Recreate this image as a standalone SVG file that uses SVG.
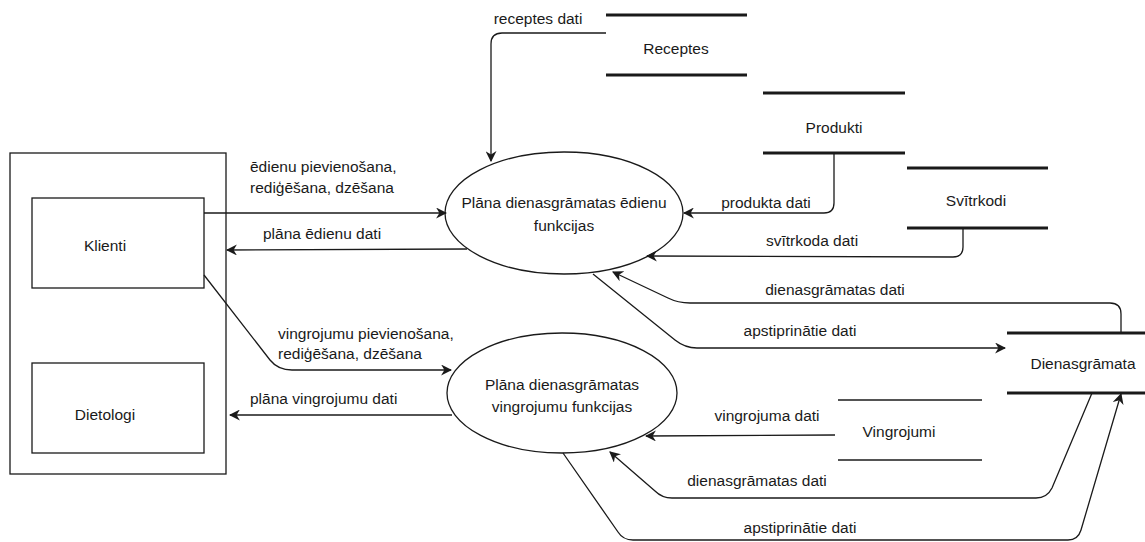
<svg xmlns="http://www.w3.org/2000/svg" width="1145" height="542" viewBox="0 0 1145 542">
<style>
text{font-family:"Liberation Sans",Arial,sans-serif;font-size:15.5px;fill:#1a1a1a}
.c{text-anchor:middle;dominant-baseline:central}
.l{text-anchor:start;dominant-baseline:central}
.box{fill:#fff;stroke:#1a1a1a;stroke-width:1.3}
.store{stroke:#1a1a1a;stroke-width:3}
.storethin{stroke:#1a1a1a;stroke-width:1.3}
.edge{fill:none;stroke:#1a1a1a;stroke-width:1.3;marker-end:url(#arr)}
</style>
<defs>
<marker id="arr" viewBox="0 0 10 10" refX="9" refY="5" markerWidth="11" markerHeight="11" markerUnits="userSpaceOnUse" orient="auto">
<path d="M0,0 L10,5 L0,10 L3,5 z" fill="#1a1a1a"/>
</marker>
</defs>
<rect width="1145" height="542" fill="#fff"/>
<g id="outer"><rect class="box" x="10" y="153" width="216" height="321"/></g>
<g id="klienti"><rect class="box" x="32" y="198" width="172" height="90"/><text class="c" x="105" y="245">Klienti</text></g>
<g id="dietologi"><rect class="box" x="32" y="363" width="172" height="90"/><text class="c" x="105" y="414">Dietologi</text></g>
<g id="proc1"><ellipse class="box" cx="564" cy="213" rx="119" ry="61"/><text class="c" x="564" y="202">Plāna dienasgrāmatas ēdienu</text><text class="c" x="564" y="225">funkcijas</text></g>
<g id="proc2"><ellipse class="box" cx="562" cy="393" rx="115" ry="60"/><text class="c" x="562" y="384">Plāna dienasgrāmatas</text><text class="c" x="562" y="406">vingrojumu funkcijas</text></g>
<g id="receptes"><line class="store" x1="606" y1="15" x2="747" y2="15"/><line class="store" x1="606" y1="75" x2="747" y2="75"/><text class="c" x="676" y="48">Receptes</text></g>
<g id="produkti"><line class="store" x1="763" y1="93" x2="905" y2="93"/><line class="store" x1="763" y1="153" x2="905" y2="153"/><text class="c" x="834" y="127">Produkti</text></g>
<g id="svitrkodi"><line class="store" x1="907" y1="168" x2="1048" y2="168"/><line class="store" x1="907" y1="228" x2="1048" y2="228"/><text class="c" x="976" y="200">Svītrkodi</text></g>
<g id="dienasgramata"><line class="store" x1="1007" y1="333" x2="1145" y2="333"/><line class="store" x1="1007" y1="393" x2="1145" y2="393"/><text class="c" x="1083" y="363">Dienasgrāmata</text></g>
<g id="vingrojumi"><line class="storethin" x1="838" y1="400" x2="982" y2="400"/><line class="storethin" x1="838" y1="460" x2="982" y2="460"/><text class="c" x="899" y="431">Vingrojumi</text></g>
<g id="connectors">
<path class="edge" d="M606,33 L502,33 Q491,33 491,44 L491,161"/>
<path class="edge" d="M834,153 L834,203 Q834,213 824,213 L684,213"/>
<path class="edge" d="M963,228 L963,247 Q963,257 953,257 L647,256"/>
<path class="edge" d="M1121,333 L1121,314 Q1121,303 1110,303 L690,303 Q678,303 668,298 L613,272"/>
<path class="edge" d="M593,274 L675,340 Q685,348 697,348 L1005,348"/>
<path class="edge" d="M204,213 L446,213"/>
<path class="edge" d="M467,249 L227,250"/>
<path class="edge" d="M204,275 L270,360 Q278,370 292,370 L451,370"/>
<path class="edge" d="M452,415 L230,415"/>
<path class="edge" d="M835,435 L646,436"/>
<path class="edge" d="M1092,393 L1052,488 Q1047,498 1036,498 L672,498 Q662,498 655,491 L610,452"/>
<path class="edge" d="M563,453 L618,532 Q623,540 633,540 L1068,540 Q1078,540 1081,530 L1121,394"/>
</g>
<g id="labels">
<text class="c" x="538" y="18">receptes dati</text>
<text class="c" x="766" y="202">produkta dati</text>
<text class="c" x="812" y="240">svītrkoda dati</text>
<text class="c" x="835" y="289">dienasgrāmatas dati</text>
<text class="c" x="800" y="330">apstiprinātie dati</text>
<text class="l" x="250" y="166">ēdienu pievienošana,</text>
<text class="l" x="250" y="187">rediģēšana, dzēšana</text>
<text class="l" x="263" y="233">plāna ēdienu dati</text>
<text class="l" x="278" y="333">vingrojumu pievienošana,</text>
<text class="l" x="278" y="353">rediģēšana, dzēšana</text>
<text class="l" x="250" y="398">plāna vingrojumu dati</text>
<text class="c" x="767" y="415">vingrojuma dati</text>
<text class="c" x="757" y="480">dienasgrāmatas dati</text>
<text class="c" x="800" y="527">apstiprinātie dati</text>
</g>
</svg>
